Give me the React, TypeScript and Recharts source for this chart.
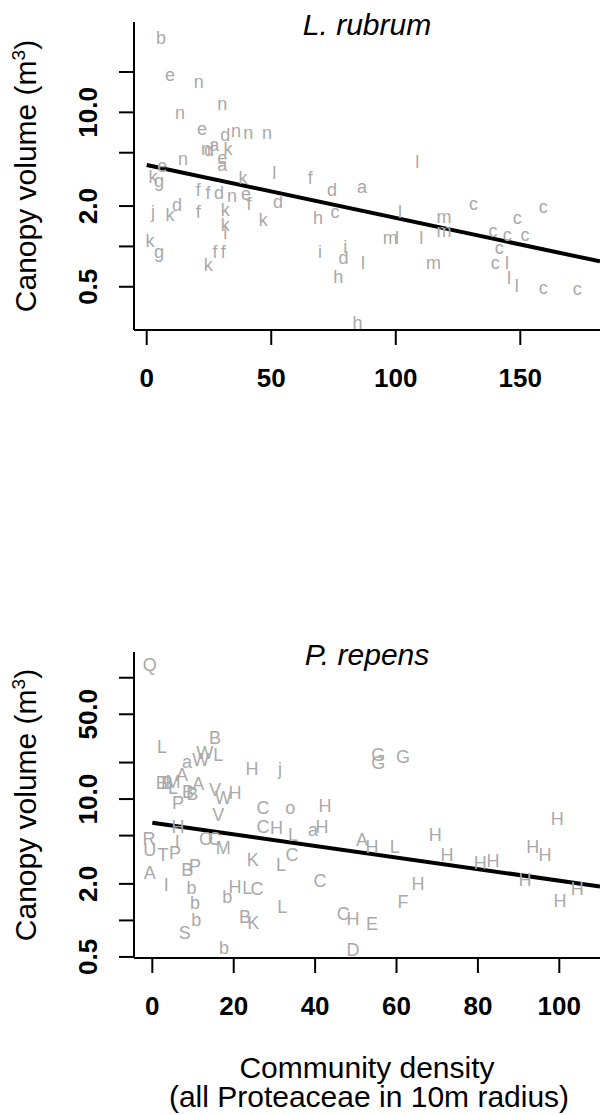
import React from "react";
import { ScatterChart, Scatter, XAxis, YAxis, ReferenceLine, Label } from "recharts";

// L. rubrum: site letter, community density, canopy volume (m3)
const rubrumLabels = [
  "b", "e", "n", "n", "n", "e", "n", "n", "n", "d", "n", "a", "d", "k", "e", "a", "n", "k", "g", "e",
  "f", "f", "d", "n", "e", "f", "k", "l", "f", "d", "j", "k", "d", "f", "k", "k", "l", "k", "h", "k",
  "g", "f", "f", "k", "i", "d", "a", "l", "c", "l", "m", "m", "c", "c", "c", "m", "l", "l", "c", "c",
  "c", "c", "c", "l", "l", "l", "c", "c", "i", "d", "l", "h", "m", "h",
];
const rubrumDensity = [
  5.7, 9.4, 20.9, 30.3, 13.4, 22.2, 35.9, 40.8, 48.3, 31.5, 23.8, 27.1, 25.0, 32.6, 30.3, 30.3, 14.6, 2.5, 4.9, 6.2,
  20.7, 24.6, 29.0, 34.3, 39.9, 41.1, 38.7, 51.2, 65.7, 52.7, 2.5, 9.4, 12.2, 20.7, 31.5, 31.5, 31.5, 46.8, 68.8, 1.3,
  4.9, 27.4, 30.7, 24.7, 69.6, 74.4, 86.4, 108.6, 75.6, 101.7, 119.4, 119.4, 131.2, 148.8, 159.2, 97.8, 100.5, 110.2, 139.0, 144.8,
  151.9, 141.5, 139.9, 144.7, 145.5, 148.6, 159.2, 172.9, 79.7, 79.0, 86.8, 76.9, 115.2, 84.6,
];
const rubrumVolume = [
  35.9, 19.0, 16.8, 11.7, 9.9, 7.5, 7.3, 7.0, 7.0, 6.8, 5.4, 5.7, 5.3, 5.4, 4.6, 4.05, 4.5, 3.3, 3.07, 4.0,
  2.63, 2.5, 2.5, 2.41, 2.46, 2.1, 3.24, 3.53, 3.24, 2.14, 1.8, 1.71, 2.03, 1.8, 1.87, 1.44, 1.26, 1.57, 1.65, 1.11,
  0.91, 0.91, 0.91, 0.73, 0.91, 2.63, 2.77, 4.26, 1.81, 1.81, 1.68, 1.32, 2.07, 1.65, 1.97, 1.17, 1.17, 1.17, 1.32, 1.22,
  1.22, 0.97, 0.75, 0.75, 0.58, 0.51, 0.49, 0.48, 0.99, 0.83, 0.76, 0.59, 0.76, 0.27,
];
const rubrumFitX = [0, 182];
const rubrumFitY = [4.05, 0.773];

// P. repens
const repensLabels = [
  "Q", "B", "L", "W", "L", "W", "a", "H", "j", "A", "B", "B", "M", "L", "B", "B", "A", "V", "W", "H",
  "P", "V", "C", "o", "H", "G", "G", "G", "H", "H", "H", "H", "A", "H", "L", "H", "H", "H", "H", "H",
  "H", "H", "F", "C", "C", "H", "E", "D", "L", "B", "K", "b", "S", "b", "b", "b", "b", "H", "L", "C",
  "I", "A", "B", "P", "K", "L", "C", "U", "T", "P", "R", "I", "O", "C", "M", "H", "C", "H", "L", "a",
  "H",
];
const repensDensity = [
  -0.6, 15.4, 2.4, 12.9, 16.2, 11.9, 8.5, 24.5, 31.4, 7.3, 2.3, 3.6, 5.1, 5.1, 8.8, 9.8, 11.3, 15.4, 17.4, 20.3,
  6.3, 16.2, 27.2, 33.9, 42.4, 55.5, 55.5, 61.6, 99.5, 69.5, 93.5, 96.5, 51.5, 54.0, 59.6, 72.4, 80.6, 83.7, 91.6, 104.4,
  100.2, 65.3, 61.6, 41.2, 46.9, 49.3, 54.0, 49.3, 31.9, 22.8, 24.8, 17.6, 8.0, 10.8, 10.5, 9.6, 18.4, 20.3, 23.3, 25.7,
  3.4, -0.6, 8.6, 10.5, 24.7, 31.6, 34.3, -0.6, 2.6, 5.6, -0.8, 6.1, 13.2, 15.3, 17.4, 6.3, 27.2, 30.5, 34.6, 39.5,
  41.7,
];
const repensVolume = [
  127.7, 31.9, 26.9, 24.0, 23.3, 21.0, 20.3, 17.7, 17.7, 15.8, 13.6, 13.6, 13.9, 12.4, 11.5, 11.1, 13.3, 11.9, 10.2, 11.2,
  9.3, 7.4, 8.45, 8.45, 8.8, 23.1, 19.9, 22.3, 6.87, 5.07, 4.03, 3.47, 4.61, 4.03, 4.03, 3.47, 2.98, 3.09, 2.16, 1.82,
  1.45, 2.0, 1.42, 2.12, 1.13, 1.03, 0.94, 0.57, 1.29, 1.07, 0.95, 0.6, 0.79, 1.01, 1.39, 1.85, 1.56, 1.89, 1.86, 1.82,
  1.96, 2.46, 2.61, 2.81, 3.15, 2.87, 3.47, 3.81, 3.47, 3.6, 4.7, 4.44, 4.7, 4.7, 3.96, 5.9, 5.9, 5.78, 5.07, 5.57,
  5.9,
];
const repensFitX = [0, 110];
const repensFitY = [6.37, 1.905];

const rubrumXTicks = [0, 50, 100, 150];
const rubrumYTicks = [0.5, 1, 2, 5, 10, 20];
const rubrumYLabeled = [0.5, 2, 10];
const repensXTicks = [0, 20, 40, 60, 80, 100];
const repensYTicks = [0.5, 1, 2, 5, 10, 20, 50, 100];
const repensYLabeled = [0.5, 2, 10, 50];

const FONT = "'Liberation Sans', Arial, sans-serif";
const POINT_COLOR = "#a9a9a9";

const toPoints = (labels: string[], xs: number[], ys: number[]) =>
  labels.map((label, i) => ({ label, x: xs[i], y: ys[i] }));

const LetterShape = (props: any) => (
  <text
    x={props.cx}
    y={props.cy}
    dy="0.35em"
    textAnchor="middle"
    fontSize={18}
    fontFamily={FONT}
    fill={POINT_COLOR}
  >
    {props.payload.label}
  </text>
);

const makeYTick = (labeled: number[]) => (props: any) => {
  const { x, y, payload } = props;
  if (!labeled.includes(payload.value)) return <g />;
  const bx = x - 20;
  return (
    <text
      x={bx}
      y={y}
      transform={`rotate(-90, ${bx}, ${y})`}
      textAnchor="middle"
      fontSize={26}
      fontWeight="bold"
      fontFamily={FONT}
      fill="#000"
    >
      {payload.value.toFixed(1)}
    </text>
  );
};

const XTick = (props: any) => (
  <text
    x={props.x}
    y={props.y + 40}
    textAnchor="middle"
    fontSize={26}
    fontWeight="bold"
    fontFamily={FONT}
    fill="#000"
  >
    {props.payload.value}
  </text>
);

const YTitle = (props: any) => {
  const vb = props.viewBox;
  const cx = 36;
  const cy = vb.y + vb.height / 2;
  return (
    <text
      x={cx}
      y={cy}
      transform={`rotate(-90, ${cx}, ${cy})`}
      textAnchor="middle"
      fontSize={30}
      fontFamily={FONT}
      fill="#000"
    >
      Canopy volume (m
      <tspan dy={-11} fontSize={19}>3</tspan>
      <tspan dy={11}>)</tspan>
    </text>
  );
};

const XTitle = (props: any) => {
  const vb = props.viewBox;
  const cx = vb.x + vb.width / 2;
  return (
    <text textAnchor="middle" fontSize={30} fontFamily={FONT} fill="#000">
      <tspan x={cx} y={vb.y + 120}>Community density</tspan>
      <tspan x={cx + 2} y={vb.y + 149}>(all Proteaceae in 10m radius)</tspan>
    </text>
  );
};

const titleStyle = (top: number): React.CSSProperties => ({
  position: "absolute",
  left: 134,
  width: 466,
  top,
  textAlign: "center",
  fontFamily: FONT,
  fontStyle: "italic",
  fontSize: 30,
  lineHeight: "30px",
  color: "#000",
});

interface PanelProps {
  top: number;
  height: number;
  marginTop: number;
  xAxisHeight: number;
  xDomain: number[];
  yDomain: number[];
  xTicks: number[];
  yTicks: number[];
  yLabeled: number[];
  points: { label: string; x: number; y: number }[];
  fitX: number[];
  fitY: number[];
  showXTitle?: boolean;
}

const Panel: React.FC<PanelProps> = (p) => (
  <div style={{ position: "absolute", left: 0, top: p.top }}>
    <ScatterChart
      width={600}
      height={p.height}
      margin={{ top: p.marginTop, right: 0, bottom: 0, left: 0 }}
    >
      <XAxis
        type="number"
        dataKey="x"
        domain={p.xDomain}
        ticks={p.xTicks}
        allowDataOverflow
        height={p.xAxisHeight}
        tickSize={15}
        stroke="#000"
        strokeWidth={2}
        tick={<XTick />}
      >
        {p.showXTitle && <Label content={<XTitle />} />}
      </XAxis>
      <YAxis
        type="number"
        dataKey="y"
        scale="log"
        domain={p.yDomain}
        ticks={p.yTicks}
        allowDataOverflow
        width={134}
        tickSize={15}
        stroke="#000"
        strokeWidth={2}
        tick={makeYTick(p.yLabeled)}
      >
        <Label content={<YTitle />} />
      </YAxis>
      <Scatter data={p.points} shape={<LetterShape />} isAnimationActive={false} />
      <ReferenceLine
        segment={[
          { x: p.fitX[0], y: p.fitY[0] },
          { x: p.fitX[1], y: p.fitY[1] },
        ]}
        stroke="#000"
        strokeWidth={4}
      />
    </ScatterChart>
  </div>
);

export default function App() {
  return (
    <div style={{ position: "absolute", left: 0, top: 0, width: 600, height: 1115, background: "#fff" }}>
      <Panel
        top={0}
        height={420}
        marginTop={22}
        xAxisHeight={90}
        xDomain={[-5.1, 182]}
        yDomain={[0.238, 47.2]}
        xTicks={rubrumXTicks}
        yTicks={rubrumYTicks}
        yLabeled={rubrumYLabeled}
        points={toPoints(rubrumLabels, rubrumDensity, rubrumVolume)}
        fitX={rubrumFitX}
        fitY={rubrumFitY}
      />
      <Panel
        top={420}
        height={695}
        marginTop={232}
        xAxisHeight={157}
        xDomain={[-4.5, 110]}
        yDomain={[0.49, 163]}
        xTicks={repensXTicks}
        yTicks={repensYTicks}
        yLabeled={repensYLabeled}
        points={toPoints(repensLabels, repensDensity, repensVolume)}
        fitX={repensFitX}
        fitY={repensFitY}
        showXTitle
      />
      <div style={titleStyle(10)}>L. rubrum</div>
      <div style={titleStyle(640)}>P. repens</div>
    </div>
  );
}
